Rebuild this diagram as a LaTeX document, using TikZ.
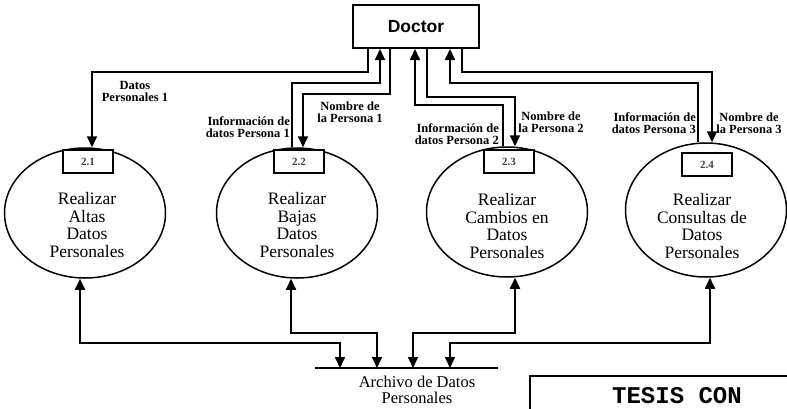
\documentclass[tikz,border=0pt]{standalone}
\usepackage{fontspec}
\setmainfont{Liberation Serif}
\newfontfamily\docfont{Liberation Sans}
\newfontfamily\stampfont{Liberation Mono}
\usetikzlibrary{arrows.meta,shapes.geometric}

\begin{document}
\begin{tikzpicture}[x=1pt,y=-1pt,
  flow/.style={line width=1.7pt, -{Triangle[length=11pt,width=10pt]}},
  dflow/.style={line width=1.7pt, {Triangle[length=11pt,width=10pt]}-{Triangle[length=11pt,width=10pt]}},
  proc/.style={ellipse, draw, line width=1.5pt, minimum width=161pt, minimum height=130pt, inner sep=0pt},
  proctext/.style={align=center, inner sep=0pt, font=\fontsize{17.5}{17.5}\selectfont},
  numbox/.style={draw, line width=1.9pt, fill=white, minimum width=50pt, minimum height=23pt, inner sep=0pt, text=black!75, font=\bfseries\fontsize{11}{11}\selectfont},
  flowlabel/.style={inner sep=0pt, font=\bfseries\fontsize{12.5}{12}\selectfont},
]
\useasboundingbox (0,0) rectangle (787,408);
\fill[white] (0,0) rectangle (787,408);

% external entity
\node[draw, line width=2pt, minimum width=126pt, minimum height=43pt, inner sep=0pt,
      font=\docfont\bfseries\fontsize{17.5}{17.5}\selectfont] (doctor) at (416,26.5) {Doctor};

% processes
\node[proc] (e1) at (85,213) {};
\node[proc] (e2) at (297,213) {};
\node[proc] (e3) at (507,212) {};
\node[proc, minimum height=134pt] (e4) at (706,210) {};

\node[numbox] (b1) at (88,161.5) {2.1};
\node[numbox] (b2) at (299,161.5) {2.2};
\node[numbox] (b3) at (509,161.5) {2.3};
\node[numbox] (b4) at (707,164.5) {2.4};

\node[proctext] (t1) at (87,225) {Realizar\\Altas\\Datos\\Personales};
\node[proctext] (t2) at (297,225) {Realizar\\Bajas\\Datos\\Personales};
\node[proctext] (t3) at (507,226) {Realizar\\Cambios en\\Datos\\Personales};
\node[proctext] (t4) at (702,226) {Realizar\\Consultas de\\Datos\\Personales};

% data store
\coordinate (storeL) at (315,368);
\coordinate (storeR) at (498,368);
\draw[line width=1.5pt] (storeL) -- (storeR);
\node[align=center, inner sep=0pt, font=\fontsize{16.5}{16}\selectfont] (store) at (417,390) {Archivo de Datos\\Personales};

% flows between Doctor and the processes
\draw[flow] (368,0 |- doctor.south) |- (92,72) -- (92,0 |- e1.north);
\draw[flow] (292,0 |- e2.north) |- (380,83) -- (380,0 |- doctor.south);
\draw[flow] (390,0 |- doctor.south) |- (303,94) -- (303,0 |- e2.north);
\draw[flow] (503,0 |- e3.north) |- (415,105) -- (415,0 |- doctor.south);
\draw[flow] (427,0 |- doctor.south) |- (515,97) -- (515,0 |- e3.north);
\draw[flow] (698,0 |- e4.north) |- (450,83) -- (450,0 |- doctor.south);
\draw[flow] (462,0 |- doctor.south) |- (712,72) -- (712,0 |- e4.north);

% flow labels
\node[flowlabel, align=center] (l1) at (135,91) {Datos\\Personales 1};
\node[flowlabel, align=right, anchor=east] (l2) at (290,127) {Información de\\datos Persona 1};
\node[flowlabel, align=center] (l3) at (350,112) {Nombre de\\la Persona 1};
\node[flowlabel, align=right, anchor=east] (l4) at (499,134) {Información de\\datos Persona 2};
\node[flowlabel, align=center] (l5) at (551,122) {Nombre de\\la Persona 2};
\node[flowlabel, align=right, anchor=east] (l6) at (696,123) {Información de\\datos Persona 3};
\node[flowlabel, align=center] (l7) at (749,123) {Nombre de\\la Persona 3};

% flows between the processes and the data store
\draw[dflow] (80,0 |- e1.south) |- (340,343) -- (340,0 |- storeL);
\draw[dflow] (291,0 |- e2.south) |- (377,333) -- (377,0 |- storeL);
\draw[dflow] (515,0 |- e3.south) |- (413,333) -- (413,0 |- storeL);
\draw[dflow] (710,0 |- e4.south) |- (450,343) -- (450,0 |- storeL);

% stamp in the corner
\begin{scope}
\clip (0,0) rectangle (787,408);
\draw[line width=2.4pt] (800,376) -- (530,376) -- (530,420);
\node[anchor=base, inner sep=0pt, font=\stampfont\bfseries\fontsize{24}{24}\selectfont] (stamp) at (677,403) {TESIS CON};
\end{scope}
\end{tikzpicture}
\end{document}
